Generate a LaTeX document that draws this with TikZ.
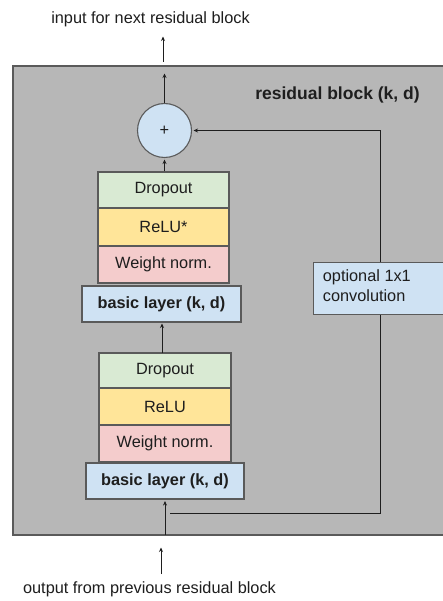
\documentclass[tikz,border=0pt]{standalone}
\usepackage{fontspec}
\setmainfont{Liberation Sans}
\usetikzlibrary{arrows.meta}
\definecolor{blockgray}{HTML}{B7B7B7}
\definecolor{edgegray}{HTML}{5A5A5A}
\definecolor{lgreen}{HTML}{D9EAD3}
\definecolor{lyellow}{HTML}{FFE599}
\definecolor{lpink}{HTML}{F4CCCC}
\definecolor{lblue}{HTML}{CFE2F3}
\definecolor{inkc}{HTML}{1E1E1E}
\tikzset{
  txt/.style={font=\fontsize{16.3}{20}\selectfont, text=inkc},
  layer/.style={txt, draw=edgegray, line width=1.1pt, inner sep=0pt,
    minimum width=#1, anchor=center},
  flow/.style={draw=inkc, line width=1.0pt,
    -{Stealth[length=4.5pt,width=4pt]}, shorten >=1.5pt},
}
\begin{document}
\begin{tikzpicture}[x=1pt,y=-1pt]
  \useasboundingbox (0,0) rectangle (443,601);
  \clip (0,0) rectangle (443,601);
  \fill[white] (0,0) rectangle (443,601);

  % residual block frame (runs past the right edge)
  \draw[fill=blockgray, draw=edgegray, line width=1.2pt] (13,66) rectangle (470,535);
  \node[txt, font=\fontsize{17.5}{20}\selectfont\bfseries] (title) at (337.5,95) {residual block (k, d)};

  % addition node
  \node[circle, draw=edgegray, fill=lblue, line width=1.1pt, minimum size=54pt, inner sep=0pt,
        txt] (sum) at (164.5,130.5) {+};

  % upper stack
  \node[layer=131pt, fill=lgreen,  minimum height=36pt] (drop2) at (163.5,190) {Dropout};
  \node[layer=131pt, fill=lyellow, minimum height=38pt] (relu2) at (163.5,227) {ReLU*};
  \node[layer=131pt, fill=lpink,   minimum height=37pt] (wn2)   at (163.5,264.5) {Weight norm.};
  \node[layer=159pt, fill=lblue,   minimum height=36pt, font=\fontsize{16.3}{20}\selectfont\bfseries]
        (basic2) at (161.5,304) {basic layer (k, d)};

  % lower stack
  \node[layer=132pt, fill=lgreen,  minimum height=35pt] (drop1) at (165,370.5) {Dropout};
  \node[layer=132pt, fill=lyellow, minimum height=37pt] (relu1) at (165,406.5) {ReLU};
  \node[layer=132pt, fill=lpink,   minimum height=37pt] (wn1)   at (165,443.5) {Weight norm.};
  \node[layer=158pt, fill=lblue,   minimum height=36pt, font=\fontsize{16.3}{20}\selectfont\bfseries]
        (basic1) at (165,481) {basic layer (k, d)};

  % shortcut path
  \coordinate (skipstart) at (170,513);
  \coordinate (skipcorner1) at (380,513);
  \coordinate (skipcorner2) at (380,130.5);
  \draw[flow] (skipstart) -- (skipcorner1) -- (skipcorner2) -- (sum.east);
  \node[draw=edgegray, fill=lblue, line width=1.1pt, minimum height=52pt, minimum width=160pt,
        anchor=north west, inner sep=0pt] (conv) at (313,262) {};
  \node[txt, align=left, anchor=north west, inner sep=0pt] (convtxt) at (322.7,269.5)
        {optional 1x1\\convolution};

  % main path arrows
  \coordinate (entry) at (165,535);
  \draw[flow] (entry) -- (basic1.south);
  \draw[flow] (162,353) -- (162,322);
  \draw[flow] (drop2.north -| sum.south) -- (sum.south);
  \coordinate (exitin) at (164.5,72);
  \draw[flow] (sum.north) -- (exitin);

  % outside arrows and captions
  \coordinate (outbot) at (161,574);
  \coordinate (outbottip) at (161,546);
  \draw[flow] (outbot) -- (outbottip);
  \coordinate (outtop) at (163,62);
  \coordinate (outtoptip) at (163,35);
  \draw[flow] (outtop) -- (outtoptip);
  \node[txt] (incap) at (150.5,19) {input for next residual block};
  \node[txt] (outcap) at (149.5,589) {output from previous residual block};
\end{tikzpicture}
\end{document}
